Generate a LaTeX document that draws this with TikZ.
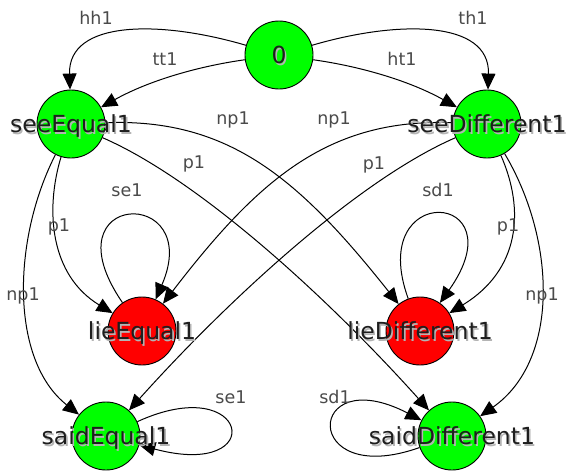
\documentclass[tikz,border=0pt]{standalone}
\usepackage{fontspec}
\setmainfont{DejaVu Sans}
\usetikzlibrary{arrows.meta}
\definecolor{stategreen}{HTML}{00FF00}
\definecolor{statered}{HTML}{FF0000}
\definecolor{labelgray}{HTML}{4A4A4A}
\definecolor{shadegray}{HTML}{B4B4B4}
\definecolor{inkdark}{HTML}{1E1E1E}
% state name with a soft grey drop shadow
\newcommand\shadowed[1]{\makebox[0pt][l]{\hspace{1.6pt}\raisebox{-1.6pt}{\textcolor{shadegray}{#1}}}\textcolor{inkdark}{#1}}

\begin{document}
\begin{tikzpicture}[x=1pt,y=-1pt,
  state/.style={circle, draw=black, line width=0.9pt, minimum size=68pt, inner sep=0pt},
  good/.style={state, fill=stategreen},
  bad/.style={state, fill=statered},
  statename/.style={inner sep=0pt, font=\fontsize{23.5}{23.5}\selectfont, text height=17pt, text depth=0pt},
  trans/.style={draw=black, line width=1pt, -{Triangle[length=16pt,width=14pt]}},
  edgelabel/.style={inner sep=0pt, anchor=base, text=labelgray, font=\fontsize{17.5}{17.5}\selectfont}
]
\useasboundingbox (0,0) rectangle (572,471);

% states
\node[good] (n0)    at (279,55)  {};
\node[good] (seeE)  at (71,124)  {};
\node[good] (seeD)  at (487,124) {};
\node[bad]  (lieE)  at (142,331) {};
\node[bad]  (lieD)  at (420,331) {};
\node[good] (saidE) at (106,436) {};
\node[good] (saidD) at (452,436) {};

% transitions out of the start state
\draw[trans] (n0) .. controls (160,20) and (68,20) .. (seeE);
\draw[trans] (n0) .. controls (200,66) and (150,80) .. (seeE);
\draw[trans] (n0) .. controls (398,20) and (490,20) .. (seeD);
\draw[trans] (n0) .. controls (358,66) and (408,80) .. (seeD);

% transitions out of seeEqual1
\draw[trans] (seeE) .. controls (45,210) and (50,275) .. (lieE);
\draw[trans] (seeE) .. controls (12,240) and (10,360) .. (saidE);
\draw[trans] (seeE) .. controls (230,118) and (300,180) .. (lieD);
\draw[trans] (seeE) .. controls (200,180) and (330,300) .. (saidD);

% transitions out of seeDifferent1
\draw[trans] (seeD) .. controls (525,210) and (520,270) .. (lieD);
\draw[trans] (seeD) .. controls (556,240) and (560,360) .. (saidD);
\draw[trans] (seeD) .. controls (328,118) and (258,180) .. (lieE);
\draw[trans] (seeD) .. controls (358,180) and (228,300) .. (saidE);

% self loops
\draw[trans] (lieE) .. controls (45,190) and (205,185) .. (lieE);
\draw[trans] (lieD) .. controls (365,180) and (520,190) .. (lieD);
\draw[trans] (saidE) .. controls (250,370) and (270,480) .. (saidE);
\draw[trans] (saidD) .. controls (300,490) and (305,360) .. (saidD);

% state names
\node[statename] (n0-t)    at (n0)    {\shadowed{0}};
\node[statename] (seeE-t)  at (seeE)  {\shadowed{seeEqual1}};
\node[statename] (seeD-t)  at (seeD)  {\shadowed{seeDifferent1}};
\node[statename] (lieE-t)  at (lieE)  {\shadowed{lieEqual1}};
\node[statename] (lieD-t)  at (lieD)  {\shadowed{lieDifferent1}};
\node[statename] (saidE-t) at (saidE) {\shadowed{saidEqual1}};
\node[statename] (saidD-t) at (saidD) {\shadowed{saidDifferent1}};

% transition labels
\node[edgelabel] (l-hh)  at (96,24)   {hh1};
\node[edgelabel] (l-tt)  at (165,65)  {tt1};
\node[edgelabel] (l-th)  at (473,24)  {th1};
\node[edgelabel] (l-ht)  at (402,65)  {ht1};
\node[edgelabel] (l-np1) at (233,124) {np1};
\node[edgelabel] (l-np2) at (334,124) {np1};
\node[edgelabel] (l-p1)  at (194,168) {p1};
\node[edgelabel] (l-p2)  at (374,169) {p1};
\node[edgelabel] (l-se1) at (127,196) {se1};
\node[edgelabel] (l-sd1) at (438,196) {sd1};
\node[edgelabel] (l-p3)  at (59,231)  {p1};
\node[edgelabel] (l-p4)  at (508,231) {p1};
\node[edgelabel] (l-np3) at (23,300)  {np1};
\node[edgelabel] (l-np4) at (542,300) {np1};
\node[edgelabel] (l-se2) at (231,403) {se1};
\node[edgelabel] (l-sd2) at (335,403) {sd1};
\end{tikzpicture}
\end{document}
